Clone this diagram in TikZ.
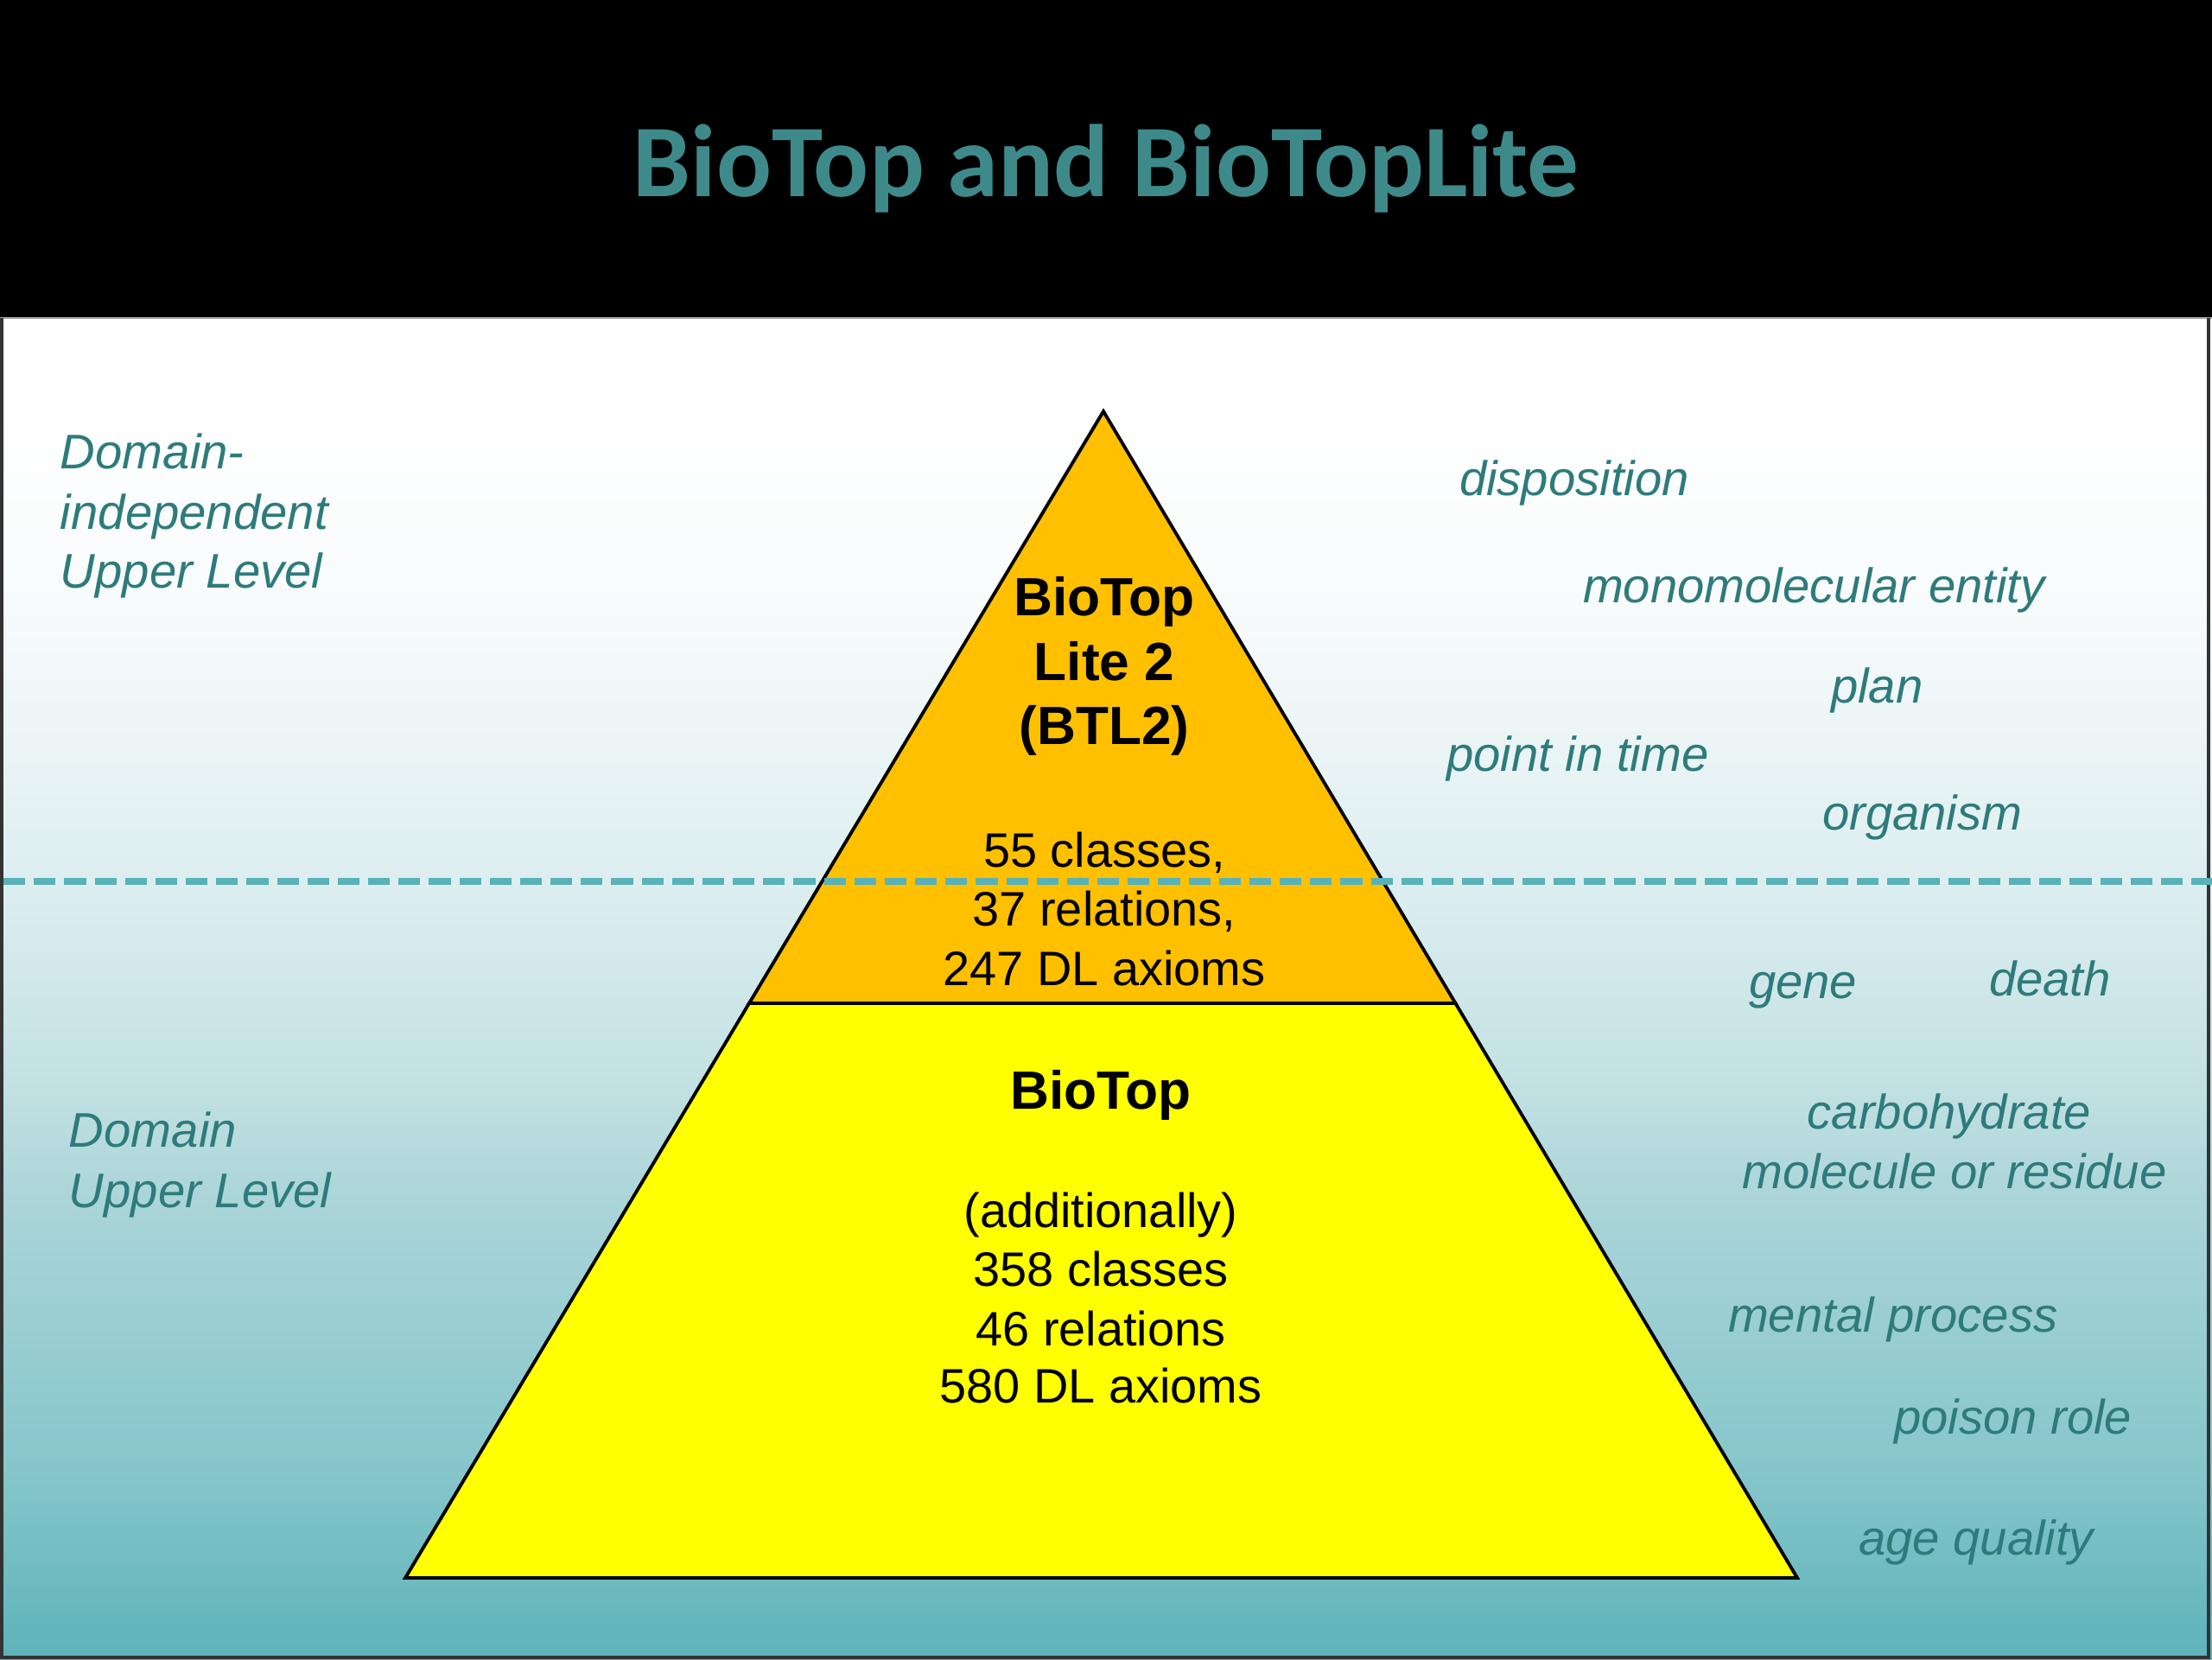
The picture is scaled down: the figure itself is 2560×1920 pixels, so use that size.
\documentclass[tikz,border=0pt]{standalone}
\usepackage{fontspec}
\setmainfont{Liberation Sans}
\newfontfamily\titlefont{Carlito}
\usetikzlibrary{calc}
\definecolor{bgA}{HTML}{5DB3B9}
\definecolor{bgB}{HTML}{86C6CB}
\definecolor{bgC}{HTML}{A9D4D8}
\definecolor{bgD}{HTML}{C3E1E3}
\definecolor{bgE}{HTML}{DDEEF0}
\definecolor{bgF}{HTML}{F8FBFC}
\definecolor{titleteal}{HTML}{3E8A8B}
\definecolor{labelteal}{HTML}{2E7B7B}
\definecolor{dashteal}{HTML}{58B2B8}
\definecolor{btlorange}{HTML}{FFC000}
\definecolor{btyellow}{HTML}{FFFF00}
\pgfdeclareverticalshading{slidebg}{100bp}{color(0bp)=(bgA); color(25bp)=(bgA); color(32.08bp)=(bgB); color(41.74bp)=(bgC); color(46.57bp)=(bgD); color(53.98bp)=(bgE); color(64.28bp)=(bgF); color(72bp)=(white); color(100bp)=(white)}
\tikzset{
  txt/.style={inner sep=0pt, outer sep=0pt, anchor=base, font=\fontsize{15.9}{19}\selectfont},
  boldtxt/.style={inner sep=0pt, outer sep=0pt, anchor=base, font=\fontsize{17.7}{21}\selectfont\bfseries},
  itl/.style={inner sep=0pt, outer sep=0pt, anchor=base west, text=labelteal, font=\fontsize{16}{19}\selectfont\itshape},
  itlc/.style={itl, anchor=base},
  layer/.style={draw=black, line width=1.1pt, line join=miter},
  waterline/.style={draw=dashteal, line width=2.1pt, dash pattern=on 7.2pt off 2.8pt},
}
\begin{document}
\begin{tikzpicture}[x=0.01cm, y=-0.01cm]
\useasboundingbox (0,0) rectangle (2560,1920);
% header
\fill[black] (0,0) rectangle (2560,367);
% background
\shade[shading=slidebg] (0,367) rectangle (2560,1920);
\draw[gray!70, line width=0.6pt] (0,368) -- (2560,368);
\draw[black!80, line width=1.1pt] (2,368) -- (2,1918) -- (2556,1918) -- (2556,368);
% title
\node[inner sep=0pt, anchor=base, text=titleteal, font=\fontsize{33.9}{40}\selectfont\titlefont\bfseries] (title) at (1280,227) {BioTop and BioTopLite};
% pyramid
\coordinate (apex) at (1277,476);
\coordinate (bl) at (469,1826);
\coordinate (br) at (2080,1826);
\coordinate (ml) at ($(apex)!0.5074!(bl)$);
\coordinate (mr) at ($(apex)!0.5074!(br)$);
\filldraw[layer, fill=btyellow] (ml) -- (mr) -- (br) -- (bl) -- cycle;
\filldraw[layer, fill=btlorange] (apex) -- (mr) -- (ml) -- cycle;
% dashed line
\coordinate (wl) at (4,1020);
\coordinate (wr) at (2560,1020);
\draw[waterline] (wl) -- (wr);
% BTL2 texts
\node[boldtxt] (t1) at (1278,712) {BioTop};
\node[boldtxt] (t2) at (1278,787) {Lite 2};
\node[boldtxt] (t3) at (1278,861) {(BTL2)};
\node[txt] (s1) at (1278,1003) {55 classes,};
\node[txt] (s2) at (1278,1071) {37 relations,};
\node[txt] (s3) at (1278,1140) {247 DL axioms};
% BioTop texts
\node[boldtxt] (b1) at (1274,1283) {BioTop};
\node[txt] (b2) at (1274,1420) {(additionally)};
\node[txt] (b3) at (1274,1488) {358 classes};
\node[txt] (b4) at (1274,1557) {46 relations};
\node[txt] (b5) at (1274,1623) {580 DL axioms};
% left labels
\node[itl] (l1) at (70,542) {Domain-};
\node[itl] (l2) at (70,612) {independent};
\node[itl] (l3) at (70,680) {Upper Level};
\node[itl] (l4) at (80,1327) {Domain};
\node[itl] (l5) at (80,1397) {Upper Level};
% right labels
\node[itl] (r1) at (1689,573) {disposition};
\node[itl] (r2) at (1832,697) {monomolecular entity};
\node[itl] (r3) at (2119,813) {plan};
\node[itl] (r4) at (1674,892) {point in time};
\node[itl] (r5) at (2109,960) {organism};
\node[itl] (r6) at (2024,1155) {gene};
\node[itl] (r7) at (2302,1152) {death};
\node[itlc] (r8) at (2256,1306) {carbohydrate};
\node[itlc] (r9) at (2262,1375) {molecule or residue};
\node[itl] (r10) at (2000,1541) {mental process};
\node[itl] (r11) at (2192,1659) {poison role};
\node[itl] (r12) at (2151,1799) {age quality};
\end{tikzpicture}
\end{document}
